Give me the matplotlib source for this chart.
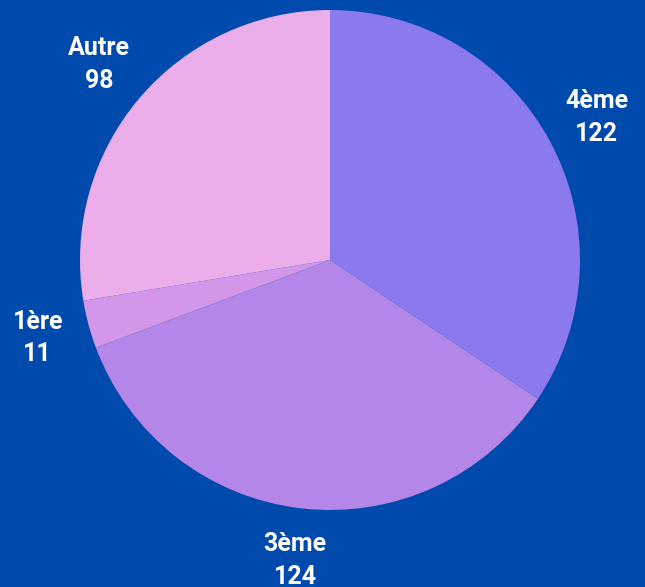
import matplotlib.pyplot as plt

labels = ["4ème", "3ème", "1ère", "Autre"]
values = [122, 124, 11, 98]
colors = ["#8a7aee", "#b386e8", "#d396e8", "#ecaeea"]
bg = "#0049ad"

W, H = 645, 587
fig = plt.figure(figsize=(W/100, H/100), dpi=100, facecolor=bg)
ax = fig.add_axes([0, 0, 1, 1])
ax.set_facecolor(bg)

texts = [f"{l}\n{v}" for l, v in zip(labels, values)]
wedges, tx = ax.pie(values, labels=texts, colors=colors, startangle=90, counterclock=False,
                    center=(330, H - 260), radius=250, labeldistance=1.21,
                    textprops=dict(color="white", fontsize=18, fontweight="bold",
                                   family=["Roboto", "DejaVu Sans"], linespacing=1.45,
                                   ha="center", va="center"),
                    wedgeprops=dict(linewidth=0), frame=True)
for t in tx:
    t.set_ha("center")
    t.set_va("center")
ax.set_xlim(0, W)
ax.set_ylim(0, H)
ax.set_aspect("equal")
ax.axis("off")
fig.savefig("out.png", dpi=100, facecolor=bg)
